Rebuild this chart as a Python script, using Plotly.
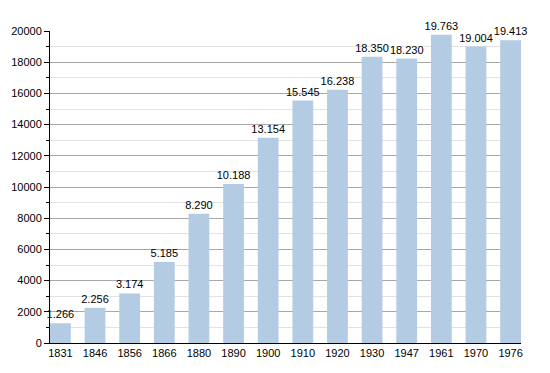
import plotly.graph_objects as go

years = ["1831", "1846", "1856", "1866", "1880", "1890", "1900", "1910", "1920", "1930", "1947", "1961", "1970", "1976"]
population = [1266, 2256, 3174, 5185, 8290, 10188, 13154, 15545, 16238, 18350, 18230, 19763, 19004, 19413]
labels = [f"{v:,}".replace(",", ".") for v in population]

fig = go.Figure(go.Bar(
    x=years, y=population, text=labels, textposition="outside",
    textfont=dict(family="Liberation Sans, Arial", size=11, color="#000"),
    marker=dict(color="#b3cbe3", line=dict(width=0)),
    width=0.6, cliponaxis=False, constraintext="none",
))
# page body has an 8px margin; size the figure so the plot area lands where the reference has it
fig.update_layout(
    width=542, height=365,
    margin=dict(l=42, r=29, t=23, b=30, autoexpand=False),
    paper_bgcolor="white", plot_bgcolor="white",
    showlegend=False,
    font=dict(family="Liberation Sans, Arial", size=11, color="#000"),
)
fig.update_xaxes(
    range=[-0.3, 13.3], showline=True, linecolor="#000", linewidth=1,
    ticks="", showgrid=False, tickfont=dict(size=11),
)
fig.update_yaxes(
    range=[0, 20000], tickvals=[0, 2000, 4000, 6000, 8000, 10000, 12000, 14000, 16000, 18000, 20000],
    tickformat="d", showline=True, linecolor="#000", linewidth=1,
    ticks="outside", ticklen=5, tickcolor="#000",
    showgrid=True, gridcolor="#a8a8a8", gridwidth=1,
    minor=dict(dtick=1000, showgrid=True, gridcolor="#e2e2e2", ticks="outside", ticklen=3, tickcolor="#000"),
    zeroline=False, tickfont=dict(size=11),
)
fig.write_html("out.html")
